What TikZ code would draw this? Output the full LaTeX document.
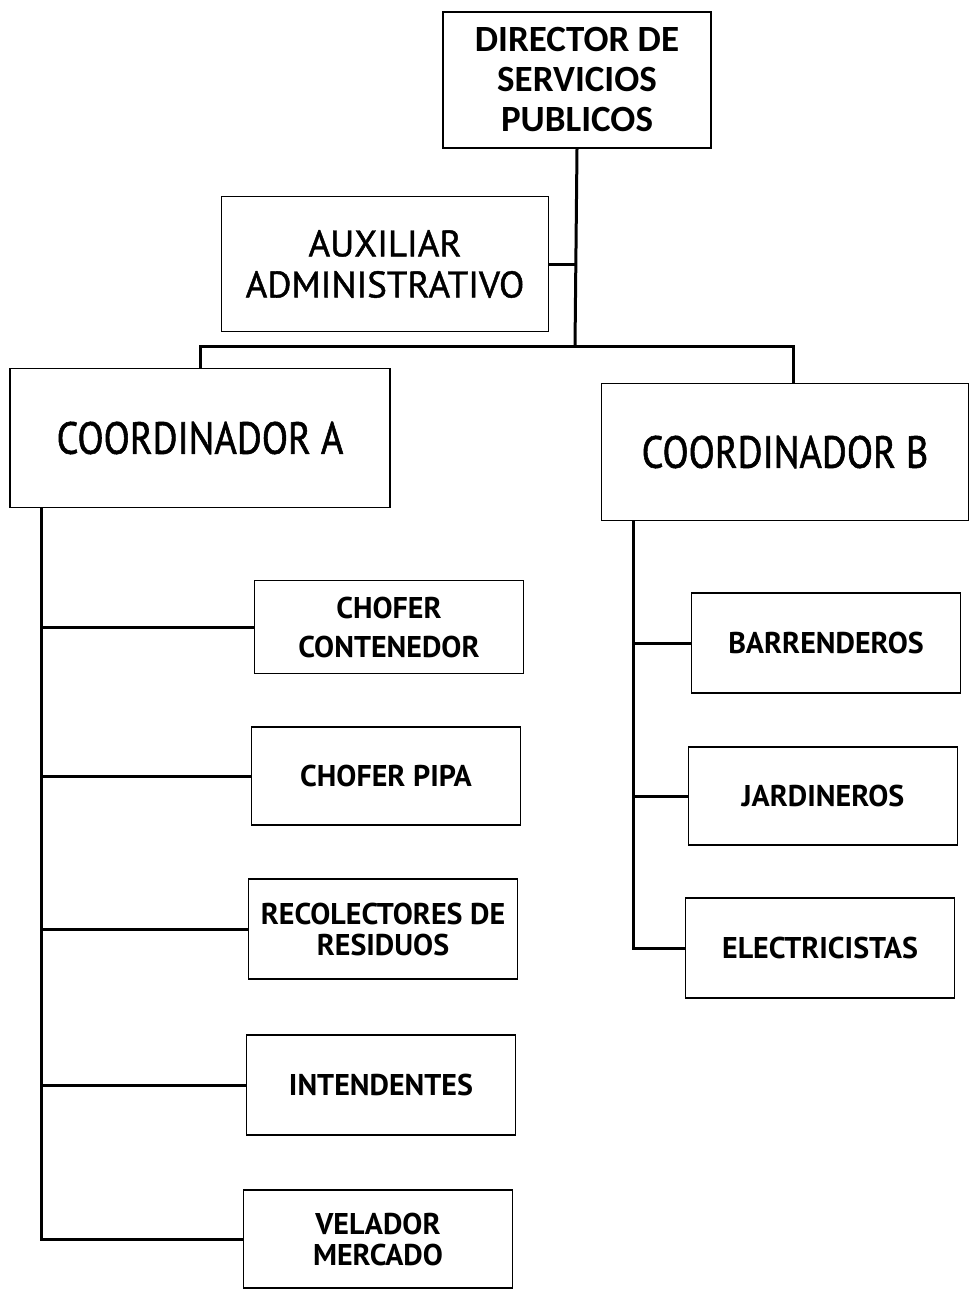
\documentclass[tikz,border=0pt]{standalone}
\usepackage{fontspec}
\setsansfont{PT Sans}
\newfontfamily\dirfont{Carlito}
\newfontfamily\midfont[FakeBold=1.2]{PT Sans}
\newfontfamily\narrowfont[FakeStretch=0.85,FakeBold=1.2]{PT Sans}
\usepackage{tikz}

\begin{document}
\begin{tikzpicture}[x=1pt,y=-1pt]
      \tikzstyle{every node}=[draw,rectangle,line width=1.6pt,inner sep=0pt,
			      align=center,font=\sffamily]
      \tikzstyle{small}=[minimum width=269pt,minimum height=98pt,
			      font=\sffamily\bfseries\fontsize{30}{31}\selectfont]
      \tikzstyle{link}=[line width=3pt]
      \useasboundingbox (0,0) rectangle (970,1289);
      % top level
      \node (dir) at (577,80) [minimum width=268pt,minimum height=136pt,
	  font=\dirfont\bfseries\fontsize{37}{40}\selectfont]
	  {DIRECTOR DE\\SERVICIOS\\PUBLICOS};
      \node (aux) at (385,264) [minimum width=327pt,minimum height=135pt,
	  font=\midfont\fontsize{37}{41}\selectfont] {AUXILIAR\\ADMINISTRATIVO};
      \node (coordA) at (200,438) [minimum width=380pt,minimum height=139pt,
	  font=\narrowfont\fontsize{45}{48}\selectfont] {COORDINADOR A};
      \node (coordB) at (785,452) [minimum width=367pt,minimum height=137pt,
	  font=\narrowfont\fontsize{45}{48}\selectfont] {COORDINADOR B};
      % coordinador A
      \node (chofcont) at (389,627) [small,minimum height=93pt,
	  font=\sffamily\bfseries\fontsize{30}{39}\selectfont] {CHOFER\\CONTENEDOR};
      \node (chofpipa) at (386,776) [small] {CHOFER PIPA};
      \node (recol) at (383,929) [small,minimum height=100pt] {RECOLECTORES DE\\RESIDUOS};
      \node (intend) at (381,1085) [small,minimum height=100pt] {INTENDENTES};
      \node (velador) at (378,1239) [small,minimum height=98pt] {VELADOR\\MERCADO};
      % coordinador B
      \node (barr) at (826,643) [small,minimum height=100pt] {BARRENDEROS};
      \node (jard) at (823,796) [small] {JARDINEROS};
      \node (elec) at (820,948) [small,minimum height=100pt] {ELECTRICISTAS};

      \coordinate (bus) at (575,346);
      \coordinate (trunkA) at (41,507);
      \coordinate (trunkB) at (633,520);
      \draw[link] (dir.south) -- (bus);
      \draw[link] (aux.east) -- (aux.east -| bus);
      \draw[link] (coordA.north) |- (bus) -| ([xshift=8pt]coordB.north);
      \draw[link] (trunkA) |- (velador.west);
      \draw[link] (chofcont.west) -- (chofcont.west -| trunkA);
      \draw[link] (chofpipa.west) -- (chofpipa.west -| trunkA);
      \draw[link] (recol.west) -- (recol.west -| trunkA);
      \draw[link] (intend.west) -- (intend.west -| trunkA);
      \draw[link] (trunkB) |- (elec.west);
      \draw[link] (barr.west) -- (barr.west -| trunkB);
      \draw[link] (jard.west) -- (jard.west -| trunkB);
  \end{tikzpicture}
\end{document}
